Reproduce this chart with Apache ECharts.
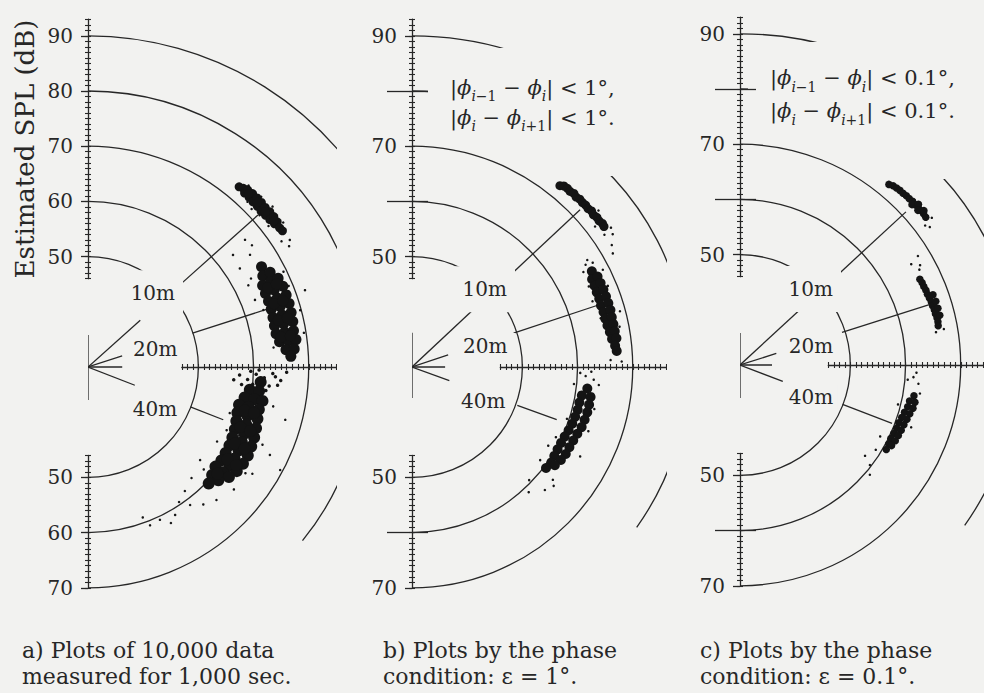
<!DOCTYPE html>
<html>
<head>
<meta charset="utf-8">
<title>Estimated SPL and bearing of sound sources</title>
<script src="https://cdn.jsdelivr.net/npm/echarts@6.0.0/dist/echarts.min.js"></script>
<style>
  html, body { margin: 0; padding: 0; background: #f2f2f0; }
  #chart { width: 984px; height: 693px; }
</style>
</head>
<body>
<div id="chart"></div>
<script>
// ---------------------------------------------------------------------------
// Data. Polar points are [estimated SPL (dB), bearing (deg, 0 = right, 90 = up)].
// ---------------------------------------------------------------------------
const splRange = [30, 90];            // 30 dB sits at the microphone
const ringLevels = [50, 60, 70];      // full half rings
const outerRingLevels = [80, 90];     // outer rings, cut below the source side
const upperAxisRange = [46, 93];
const lowerAxisRange = [46, 70];
const upperTicksA = [50, 60, 70, 80, 90];
const upperTicksBC = [50, 70, 90];
const upperBarsBC = [60, 80];
const lowerTicksA = [50, 60, 70];
const lowerTicksBC = [50, 70];
const lowerBarsBC = [60];
const sourceNames = ['10m', '20m', '40m'];
const phaseLimits = ['1°', '0.1°'];
const captionsA = ['a) Plots of 10,000 data', 'measured for 1,000 sec.'];
const captionsB = ['b) Plots by the phase', 'condition: ε = 1°.'];
const captionsC = ['c) Plots by the phase', 'condition: ε = 0.1°.'];
const yTitle = 'Estimated SPL (dB)';

// bearing of each source line, per panel
const bearingsA = [41.8, 17.9, -21.3];
const bearingsB = [43.1, 18.4, -20.0];
const bearingsC = [42.7, 17.7, -21.0];
// source lines: [from, to, from, to] in dB, broken where the name sits
const leaderSpansA = [[30, 42.7, 53.0, 71.3], [30, 36.5, 49.9, 65.0], [30, 39.1, 49.9, 56.3]];
const leaderSpansB = [[30, 44.7, 55.2, 71.7], [30, 36.9, 49.4, 65.3], [30, 37.2, 50.3, 57.9]];
const leaderSpansC = [[30, 45.9, 54.8, 70.9], [30, 36.9, 49.4, 66.0], [30, 38.3, 49.9, 59.5]];
// where the source names are written
const labelAnchorsA = [[47.8, 48.7], [42.6, 15.0], [44.3, -32.0]];
const labelAnchorsB = [[49.3, 46.9], [43.8, 16.0], [44.3, -25.6]];
const labelAnchorsC = [[48.8, 47.0], [43.3, 15.0], [44.1, -24.3]];
// microphone cross arm ends: [left, up, right, down] in dB
const crossA = [36.3, 35.8, 36.2, 36.0];
const crossB = [34.3, 36.2, 36.0, 35.6];
const crossC = [34.0, 35.8, 35.8, 36.0];

// a) all 10,000 estimates
const cloudA10 = [[72.6,50.0],[72.9,49.0],[72.4,48.0],[73.2,48.0],[72.4,46.5],[73.3,46.5],[72.3,45.0],[73.3,45.0],
  [72.3,43.5],[73.3,43.5],[72.2,42.0],[73.2,42.0],[72.3,40.5],[73.3,40.5],[72.4,39.0],[73.3,39.0],[72.6,37.5],
  [73.2,37.5],[72.9,36.0],[73.0,35.0],[72.8,47.2],[72.8,44.2],[72.7,41.2],[72.8,38.2]];
const cloudA20 = [[66.3,30.0],[65.7,27.5],[67.2,27.5],[64.9,25.0],[66.5,25.0],[68.0,25.0],[64.8,22.5],[66.5,22.5],
  [68.2,22.5],[64.8,20.0],[66.5,20.0],[68.2,20.0],[64.8,17.5],[66.5,17.5],[68.2,17.5],[64.7,15.0],[66.4,15.0],
  [68.1,15.0],[64.6,12.5],[66.3,12.5],[68.0,12.5],[64.6,10.0],[66.2,10.0],[67.8,10.0],[65.0,7.5],[66.6,7.5],
  [68.0,7.5],[66.0,5.0],[67.5,5.0],[66.8,3.0],[65.6,23.8],[67.3,23.8],[65.6,18.8],[67.3,18.8],[65.5,13.8],
  [67.2,13.8],[65.4,8.8],[67.1,8.8]];
const cloudA40 = [[61.4,-5.0],[59.6,-8.0],[61.3,-8.0],[58.9,-11.0],[60.7,-11.0],[62.2,-11.0],[58.2,-14.0],[60.0,-14.0],
  [61.9,-14.0],[58.3,-17.0],[60.2,-17.0],[62.1,-17.0],[58.6,-20.0],[60.5,-20.0],[62.4,-20.0],[58.9,-23.0],
  [60.8,-23.0],[62.7,-23.0],[59.1,-26.0],[61.0,-26.0],[62.9,-26.0],[59.3,-29.0],[61.2,-29.0],[63.1,-29.0],
  [59.4,-32.0],[61.3,-32.0],[63.1,-32.0],[59.5,-35.0],[61.3,-35.0],[62.9,-35.0],[59.3,-38.0],[61.0,-38.0],
  [62.4,-38.0],[59.8,-41.0],[61.3,-41.0],[60.4,-44.0],[59.5,-15.5],[61.2,-15.5],[59.7,-21.5],[61.6,-21.5],
  [60.0,-27.5],[62.0,-27.5],[60.3,-33.5],[62.2,-33.5],[60.4,-39.5]];
const streaksA = [[57.5,-3.0],[59.0,-4.5],[60.5,-2.5],[62.0,-3.5],[63.5,-2.0],[65.0,-4.0],[58.0,-6.5],[63.0,-6.0],
  [66.0,-1.5],[61.0,-1.0],[64.5,-5.5],[60.0,-6.0],[56.5,-5.0],[62.5,-7.5],[64.0,-3.0],[59.5,-1.5]];
const strayA = [[66.6,39.0],[65.7,34.7],[63.2,37.7],[62.8,33.0],[67.0,36.6],[62.6,27.0],[62.6,21.9],[69.8,15.0],
  [71.7,19.5],[73.2,32.2],[72.5,31.0],[71.8,33.0],[71.2,44.0],[74.3,41.0],[71.5,38.0],[74.0,36.5],
  [61.1,-53.5],[61.1,-59.5],[60.6,-64.8],[60.8,-68.6],[59.5,-56.0],[62.5,-50.0],[57.5,-47.0],[63.5,-46.0],
  [56.4,-39.7],[69.5,-28.2],[66.6,-25.8],[67.0,-15.0],[65.5,-33.0],[57.0,-30.0],[64.5,-40.0],[58.5,-52.0],
  [62.0,-62.0],[59.0,-70.0],[63.6,28.5],[69.4,26.0],[63.4,18.0],[69.6,9.0],[63.8,6.0],[69.2,22.0],
  [71.6,46.0],[74.0,44.5],[73.9,48.5],[71.5,41.5],[57.0,-18.0],[64.3,-12.0],[64.6,-24.0],[57.6,-24.5],
  [64.4,-34.0],[58.0,-41.5]];

// b) estimates kept by the 1 degree phase condition
const cloudB10 = [[72.4,50.8],[72.8,50.0],[72.9,49.0],[72.8,48.0],[73.0,47.0],[72.8,46.0],[73.0,45.0],[72.9,44.0],
  [73.0,43.0],[72.9,42.0],[73.1,41.0],[72.9,40.0],[73.1,39.0],[73.0,38.0],[73.2,37.0],[73.1,36.2]];
const cloudB20 = [[66.9,28.0],[66.3,26.0],[67.4,26.0],[66.2,24.0],[67.4,24.0],[66.1,22.0],[67.4,22.0],[66.1,20.0],
  [67.4,20.0],[66.0,18.0],[67.4,18.0],[66.1,16.0],[67.4,16.0],[66.1,14.0],[67.3,14.0],[66.2,12.0],[67.3,12.0],
  [66.4,10.0],[67.3,10.0],[66.6,8.0],[67.4,8.0],[67.0,6.0],[67.2,4.5]];
const cloudB40 = [[62.0,-7.0],[61.2,-9.5],[62.8,-9.5],[61.0,-12.0],[62.8,-12.0],[61.0,-14.5],[62.8,-14.5],[60.9,-17.0],
  [62.7,-17.0],[60.8,-19.5],[62.6,-19.5],[60.6,-22.0],[62.3,-22.0],[60.4,-24.5],[62.1,-24.5],[60.3,-27.0],
  [62.0,-27.0],[60.3,-29.5],[62.0,-29.5],[60.4,-32.0],[61.8,-32.0],[60.6,-34.5],[61.4,-34.5],[60.4,-37.0]];
const strayB = [[67.2,31.4],[66.5,30.5],[67.8,30.0],[65.5,29.0],[72.4,31.4],[71.8,29.5],[68.8,27.0],[64.8,20.0],
  [69.0,15.0],[66.0,2.0],[68.0,1.5],[74.0,35.0],[72.3,34.5],[73.6,33.5],[71.8,37.5],[74.1,40.0],
  [61.5,-3.0],[63.0,-4.0],[60.5,-2.0],[62.5,-1.5],[64.0,-5.5],[59.5,-6.0],[62.7,-38.7],[62.8,-42.8],
  [58.7,-36.0],[58.5,-30.0],[59.0,-26.0],[64.0,-20.0],[64.5,-28.0],[63.5,-40.0],[59.5,-44.0],[61.0,-47.0],
  [65.2,24.5],[68.4,22.5],[65.3,14.5],[68.3,11.0],[59.6,-18.5],[63.9,-13.0]];

// c) estimates kept by the 0.1 degree phase condition
const cloudC10 = [[72.4,50.5],[72.7,49.5],[72.8,48.5],[72.9,47.5],[72.9,46.5],[73.0,45.5],[73.0,44.5],[73.1,43.5],
  [73.0,42.5],[73.1,41.5],[73.1,40.5],[73.1,39.5],[73.0,38.5],[72.6,43.0],[73.5,42.0],[72.7,41.0],[73.5,40.0]];
const cloudC20 = [[66.1,25.5],[66.2,24.3],[66.2,23.1],[66.3,21.9],[66.3,20.7],[66.4,19.5],[66.5,18.3],[66.5,17.1],
  [66.6,15.9],[66.6,14.7],[66.7,13.5],[66.7,12.3],[66.6,11.2],[67.2,20.0],[67.3,18.0],[67.3,16.0],[67.3,14.0]];
const cloudC40 = [[62.0,-10.0],[61.4,-12.0],[62.4,-12.0],[61.3,-14.0],[62.3,-14.0],[61.0,-16.0],[62.0,-16.0],
  [60.8,-18.0],[61.8,-18.0],[60.6,-20.0],[61.6,-20.0],[60.6,-22.0],[61.5,-22.0],[60.5,-24.0],[61.4,-24.0],
  [60.4,-26.0],[61.3,-26.0],[60.5,-28.0],[61.1,-28.0],[60.6,-30.0]];
const strayC = [[67.3,29.0],[66.8,28.0],[66.0,30.5],[67.8,31.5],[66.0,9.5],[67.5,10.0],[72.0,37.0],[73.8,37.5],
  [72.5,36.0],[61.5,-4.0],[62.5,-6.0],[60.5,-5.0],[63.0,-9.0],[59.5,-14.0],[58.5,-27.0],[59.0,-32.0],
  [58.0,-36.0],[63.0,-20.0],[59.7,-37.6],[60.8,-40.2],[62.0,-2.5]];

// ---------------------------------------------------------------------------
// Layout and style
// ---------------------------------------------------------------------------
const ink = '#272727';
const dotInk = '#141414';
const paper = '#f2f2f0';
const clear = 'rgba(0,0,0,0)';
const serif = '"DejaVu Serif", "Liberation Serif", serif';
const k = 5.52;                                   // px per dB
const R = (splRange[1] - splRange[0]) * k;

const panels = [
  { cx: 88, cy: 367, cut: -39, hAxis: [47, 75], up: upperTicksA, upBars: [], down: lowerTicksA, downBars: [],
    bearings: bearingsA, spans: leaderSpansA, anchors: labelAnchorsA, cross: crossA,
    pads: [[13, 8], [3, 8], [2, 4]],
    clouds: [[cloudA10, 9], [cloudA20, 11], [cloudA40, 12], [streaksA, 3.5], [strayA, 2.5]],
    caption: captionsA, capX: 22, title: yTitle },
  { cx: 412, cy: 367, cut: -35.5, hAxis: [46, 76], up: upperTicksBC, upBars: upperBarsBC, down: lowerTicksBC, downBars: lowerBarsBC,
    bearings: bearingsB, spans: leaderSpansB, anchors: labelAnchorsB, cross: crossB,
    pads: [[13, 8], [3, 8], [2, 4]],
    clouds: [[cloudB10, 9], [cloudB20, 10], [cloudB40, 10], [strayB, 2.5]],
    caption: captionsB, capX: 383, limit: phaseLimits[0], fx: 450, fy: 73, flh: 30,
    boxes: [[428, 48, 239, 87], [560, 135, 107, 41]] },
  { cx: 740, cy: 365, cut: -35.5, hAxis: [46, 75], up: upperTicksBC, upBars: upperBarsBC, down: lowerTicksBC, downBars: lowerBarsBC,
    bearings: bearingsC, spans: leaderSpansC, anchors: labelAnchorsC, cross: crossC,
    pads: [[13, 8], [3, 8], [2, 4]],
    clouds: [[cloudC10, 7.5], [cloudC20, 7.5], [cloudC40, 7.5], [strayC, 2.5]],
    caption: captionsC, capX: 700, limit: phaseLimits[1], fx: 770, fy: 61, flh: 33,
    boxes: [[748, 42, 236, 93], [880, 135, 104, 44]] }
];
// each panel covers the one before it from this x onwards
const panelEdges = [null, 337, 667];

const option = {
  backgroundColor: paper,
  animation: false,
  polar: [], angleAxis: [], radiusAxis: [],
  grid: [], xAxis: [], yAxis: [],
  series: [],
  graphic: { elements: [] }
};

function angleAxisOf(polarIndex, from, z) {
  return { polarIndex, type: 'value', min: from, max: 90, startAngle: from, endAngle: 90, clockwise: false,
    axisLine: { show: false }, axisTick: { show: false }, axisLabel: { show: false }, splitLine: { show: false }, z };
}
function radiusAxisOf(polarIndex, levels, z) {
  const ticks = [];
  for (let v = splRange[0]; v <= splRange[1]; v += 10) ticks.push(v);
  return { polarIndex, type: 'value', min: splRange[0], max: splRange[1], interval: 10,
    axisLine: { show: false }, axisTick: { show: false }, axisLabel: { show: false },
    splitLine: { show: true, lineStyle: { width: 1.3, color: ticks.map(v => levels.includes(v) ? ink : clear) } }, z };
}
function lineOf(polarIndex, data, z) {
  return { type: 'line', coordinateSystem: 'polar', polarIndex, data, symbol: 'none', clip: false, silent: true,
    lineStyle: { color: ink, width: 1.3 }, z };
}
function hiddenAxis(gridIndex) {
  return { gridIndex, type: 'value', show: false, min: 0, max: 1 };
}
function verticalAxes(gridIndex, range, inverse, labels, bars, z, title) {
  const base = { gridIndex, type: 'value', min: range[0], max: range[1], interval: 1, inverse, position: 'left', offset: 0,
    axisLine: { show: false }, axisTick: { show: false }, axisLabel: { show: false }, splitLine: { show: false }, z };
  const thin = { color: ink, width: 1.1 };
  const thick = { color: ink, width: 1.3 };
  const list = [
    Object.assign({}, base, { axisLine: { show: true, lineStyle: thick }, axisTick: { show: true, inside: true, length: 3, lineStyle: thin } }),
    Object.assign({}, base, { axisTick: { show: true, length: 3, lineStyle: thin },
      axisLabel: { show: true, customValues: labels, margin: 15, color: ink, fontFamily: serif, fontSize: 20 } }),
    Object.assign({}, base, { axisTick: { show: true, customValues: labels, length: 7, lineStyle: thick } })
  ];
  if (bars.length) {
    list.push(Object.assign({}, base, { axisTick: { show: true, customValues: bars, length: 25, lineStyle: thick } }));
    list.push(Object.assign({}, base, { axisTick: { show: true, customValues: bars, inside: true, length: 16, lineStyle: thick } }));
  }
  if (title) {
    Object.assign(list[1], { name: title, nameLocation: 'middle', nameGap: 50, nameRotate: 90,
      nameTextStyle: { fontFamily: serif, fontSize: 26, color: ink } });
  }
  return list;
}

panels.forEach((p, i) => {
  const z0 = i * 10;
  const pFull = i * 2, pPart = i * 2 + 1;

  if (panelEdges[i] !== null) {
    option.graphic.elements.push({ type: 'rect', silent: true, z: z0 - 1,
      shape: { x: panelEdges[i], y: 0, width: 984 - panelEdges[i], height: 693 }, style: { fill: paper } });
  }

  // rings
  option.polar.push({ center: [p.cx, p.cy], radius: R }, { center: [p.cx, p.cy], radius: R });
  option.angleAxis.push(angleAxisOf(pFull, -90, z0 + 1), angleAxisOf(pPart, p.cut, z0 + 1));
  option.radiusAxis.push(radiusAxisOf(pFull, ringLevels, z0 + 1), radiusAxisOf(pPart, outerRingLevels, z0 + 1));

  // source lines and microphone cross
  p.bearings.forEach((b, j) => {
    const s = p.spans[j];
    option.series.push(lineOf(pFull, [[s[0], b], [s[1], b]], z0 + 2));
    option.series.push(lineOf(pFull, [[s[2], b], [s[3], b]], z0 + 2));
  });
  option.series.push(lineOf(pFull, [[p.cross[1], 90], [splRange[0], 90], [p.cross[3], -90]], z0 + 2));
  option.series.push(lineOf(pFull, [[p.cross[0], 180], [splRange[0], 180], [p.cross[2], 0]], z0 + 2));

  // estimated positions
  p.clouds.forEach(([pts, size]) => {
    option.series.push({ type: 'scatter', coordinateSystem: 'polar', polarIndex: pFull, data: pts,
      symbol: 'circle', symbolSize: size, silent: true, itemStyle: { color: dotInk, opacity: 1 }, z: z0 + 3 });
  });

  // source names
  option.series.push({ type: 'scatter', coordinateSystem: 'polar', polarIndex: pFull, symbolSize: 1, silent: true,
    itemStyle: { color: clear, opacity: 1 }, z: z0 + 5,
    label: { show: true, position: 'inside', formatter: '{b}', fontFamily: serif, fontSize: 20, color: ink,
      backgroundColor: paper },
    data: sourceNames.map((n, j) => ({ name: n, value: p.anchors[j], label: { padding: p.pads[j] } })) });

  // SPL scales: upwards, downwards and towards the sources
  const gUp = option.grid.length;
  option.grid.push({ left: p.cx, top: p.cy - (upperAxisRange[1] - splRange[0]) * k, width: 30,
    height: (upperAxisRange[1] - upperAxisRange[0]) * k, containLabel: false, outerBoundsMode: 'none' });
  option.xAxis.push(hiddenAxis(gUp));
  option.yAxis.push(...verticalAxes(gUp, upperAxisRange, false, p.up, p.upBars, z0 + 4, p.title));

  const gDown = option.grid.length;
  option.grid.push({ left: p.cx, top: p.cy + (lowerAxisRange[0] - splRange[0]) * k, width: 30,
    height: (lowerAxisRange[1] - lowerAxisRange[0]) * k, containLabel: false, outerBoundsMode: 'none' });
  option.xAxis.push(hiddenAxis(gDown));
  option.yAxis.push(...verticalAxes(gDown, lowerAxisRange, true, p.down, p.downBars, z0 + 4, null));

  const gH = option.grid.length;
  option.grid.push({ left: p.cx + (p.hAxis[0] - splRange[0]) * k, top: p.cy - 20,
    width: (p.hAxis[1] - p.hAxis[0]) * k, height: 20, containLabel: false, outerBoundsMode: 'none' });
  option.yAxis.push(hiddenAxis(gH));
  const hBase = { gridIndex: gH, type: 'value', min: p.hAxis[0], max: p.hAxis[1], interval: 1, position: 'bottom', offset: 0,
    axisLabel: { show: false }, splitLine: { show: false }, z: z0 + 4 };
  option.xAxis.push(Object.assign({}, hBase, { axisLine: { show: true, lineStyle: { color: ink, width: 1.3 } },
    axisTick: { show: true, inside: true, length: 3, lineStyle: { color: ink, width: 1.1 } } }));
  option.xAxis.push(Object.assign({}, hBase, { axisLine: { show: false },
    axisTick: { show: true, length: 3, lineStyle: { color: ink, width: 1.1 } } }));

  // phase condition, on a blank patch that hides the rings behind it
  if (p.limit) {
    p.boxes.forEach(b => option.graphic.elements.push({ type: 'rect', silent: true, z: z0 + 2,
      shape: { x: b[0], y: b[1], width: b[2], height: b[3] }, style: { fill: paper } }));
    const sub = { fontStyle: 'italic', fontFamily: serif, fontSize: 14, lineHeight: 18, verticalAlign: 'bottom' };
    option.graphic.elements.push({ type: 'text', silent: true, z: z0 + 7, x: p.fx, y: p.fy,
      style: {
        text: '|{v|ϕ}{s|i}{t|−1} − {v|ϕ}{s|i}| < ' + p.limit + ',\n|{v|ϕ}{s|i} − {v|ϕ}{s|i}{t|+1}| < ' + p.limit + '.',
        fill: ink, fontFamily: serif, fontSize: 21, lineHeight: p.flh, verticalAlign: 'top',
        rich: {
          v: { fontStyle: 'italic', fontFamily: serif, fontSize: 21, lineHeight: p.flh },
          s: sub,
          t: Object.assign({}, sub, { fontStyle: 'normal' })
        }
      } });
  }

  // caption
  option.graphic.elements.push({ type: 'text', silent: true, z: 40, x: p.capX, y: 637,
    style: { text: p.caption.join('\n'), fill: ink, fontFamily: serif, fontSize: 22, lineHeight: 26, verticalAlign: 'top' } });
});

const chart = echarts.init(document.getElementById('chart'), null, { renderer: 'svg', width: 984, height: 693 });
chart.setOption(option);
</script>
</body>
</html>
